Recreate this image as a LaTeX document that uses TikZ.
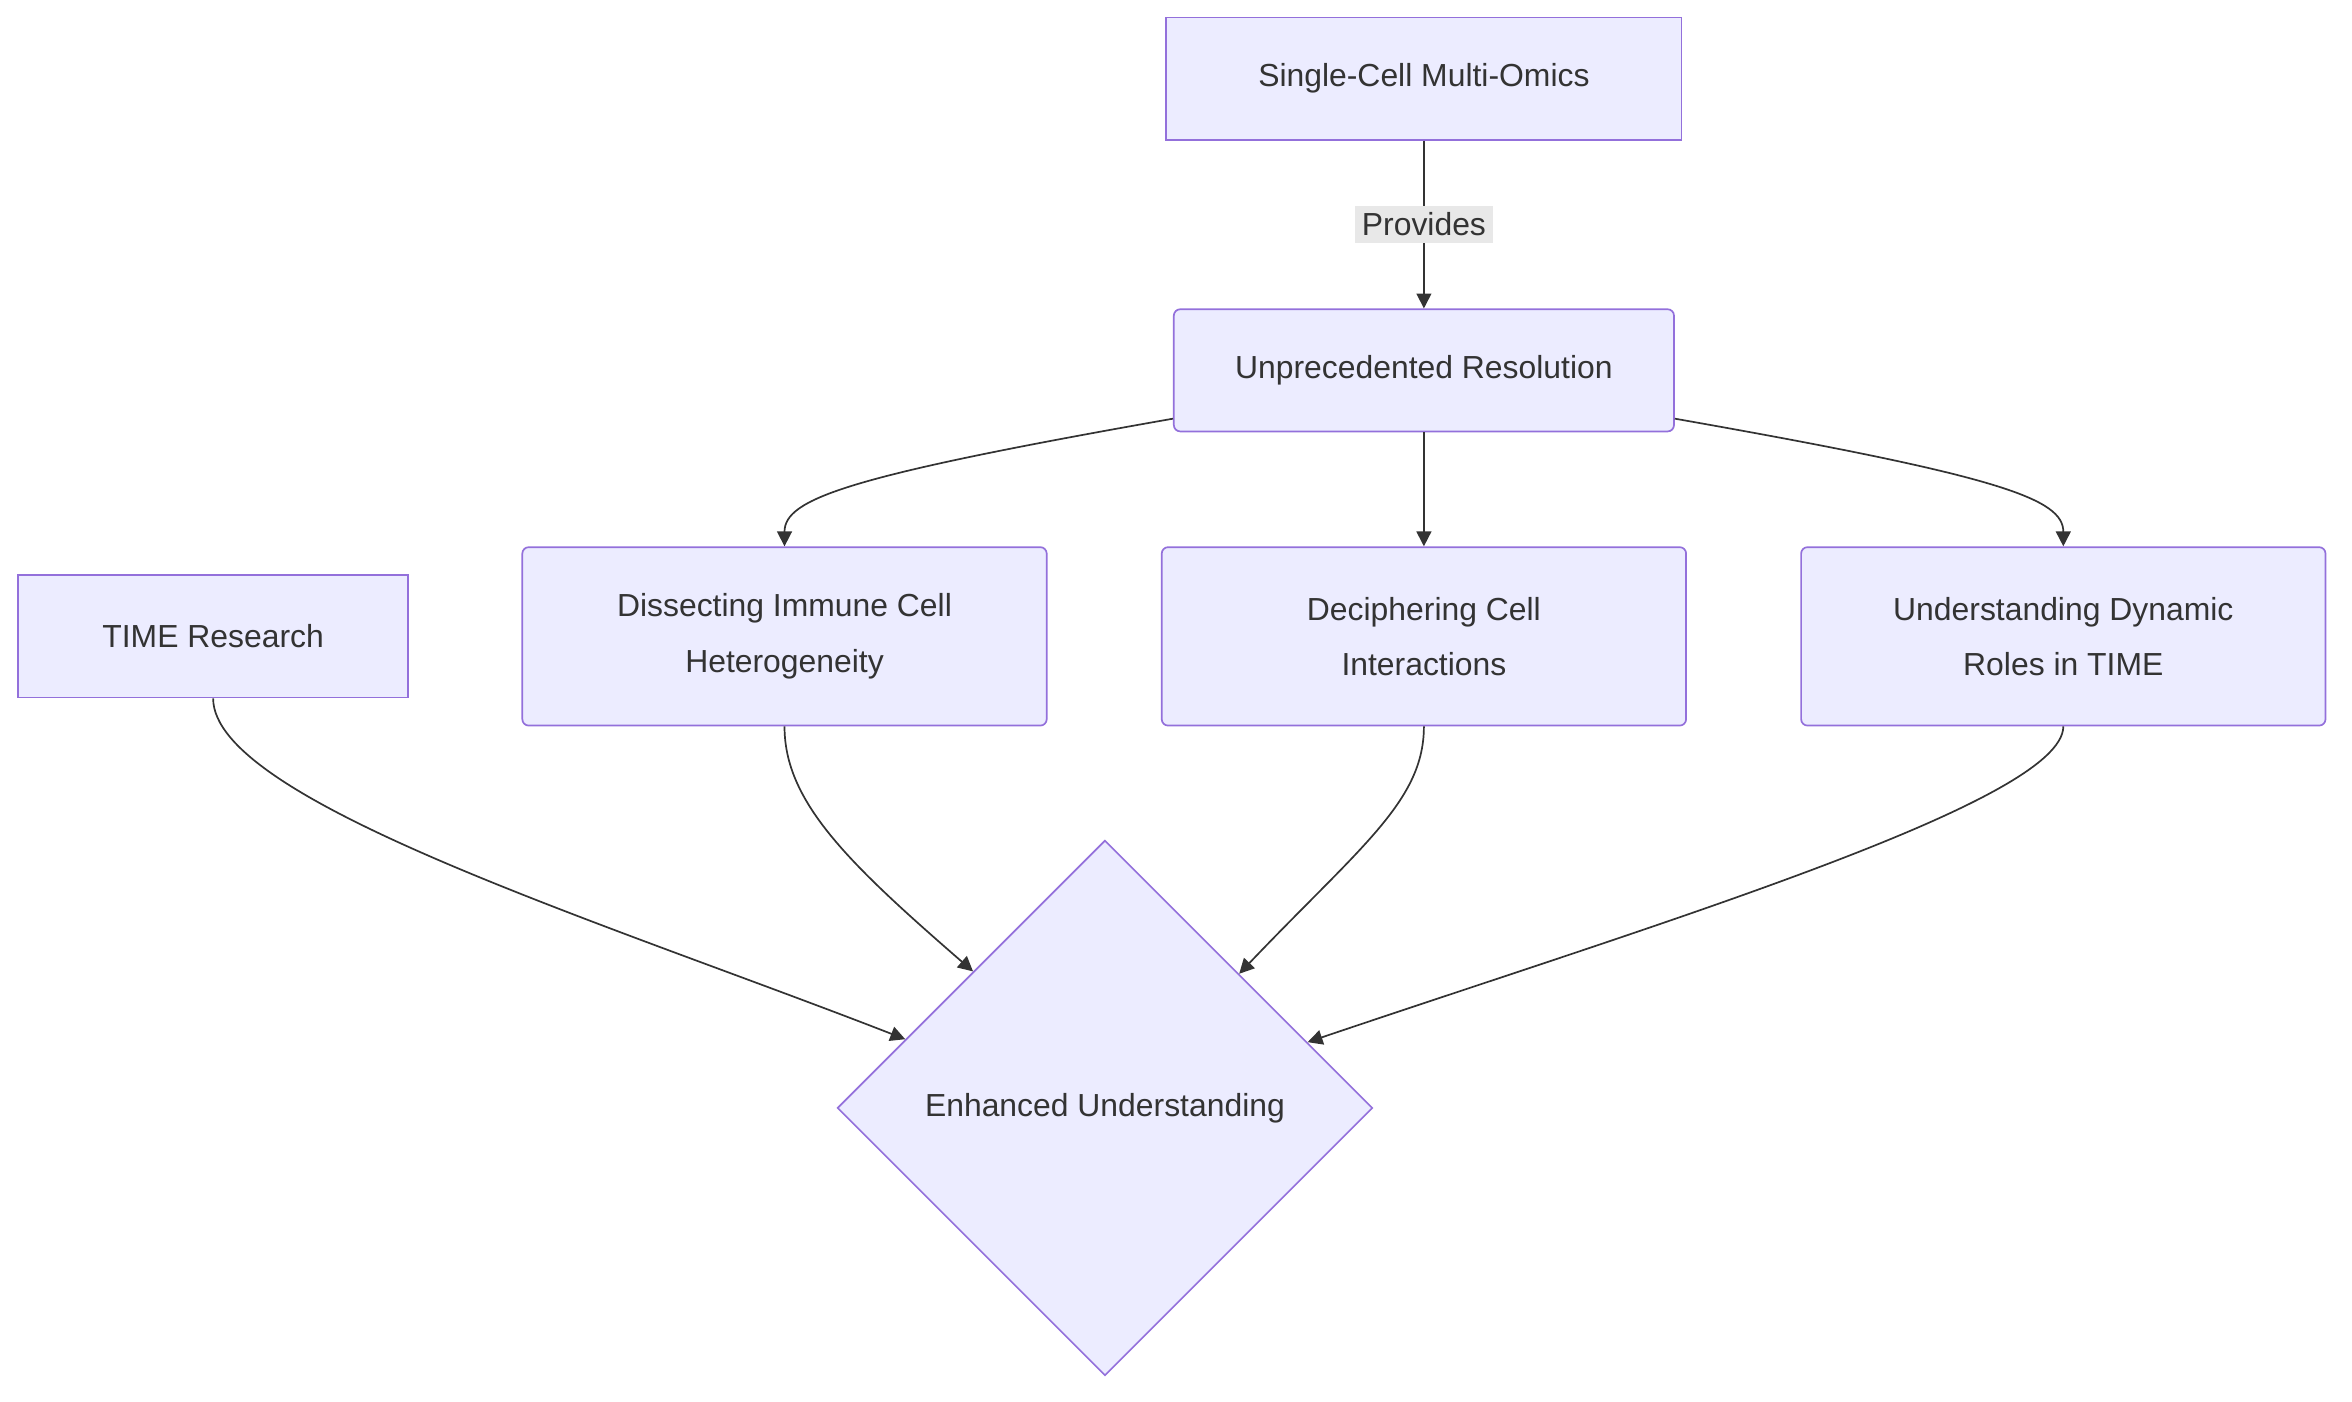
\documentclass[tikz,border=0pt]{standalone}
\usepackage{fontspec}
\setmainfont{Liberation Sans}
\usetikzlibrary{shapes.geometric,calc,arrows.meta}
\definecolor{boxfill}{HTML}{ECECFF}
\definecolor{boxline}{HTML}{9370DB}
\definecolor{ink}{HTML}{333333}
\begin{document}
\begin{tikzpicture}[x=0.025cm, y=-0.025cm, thick,
    main/.style = {draw=boxline, fill=boxfill, text=ink, align=center, font=\fontsize{15}{26}\selectfont},
    plain/.style = {main, minimum width=8.52cm, minimum height=2.02cm},
    soft/.style = {main, rounded corners=3pt},
    wide/.style = {soft, minimum width=8.67cm, minimum height=2.95cm},
    arr/.style = {draw=ink, line width=0.8pt, -{Triangle[length=7pt,width=7pt]}} ]
        \useasboundingbox (0,0) rectangle (1556,927);
        \node[plain] (sc) at (942,52) {Single-Cell Multi-Omics};
        \node[soft, minimum width=8.27cm, minimum height=2.02cm] (res) at (942,245) {Unprecedented Resolution};
        \node[wide] (dis) at (519,421) {Dissecting Immune Cell\\Heterogeneity};
        \node[wide] (dec) at (942,421) {Deciphering Cell\\Interactions};
        \node[wide] (und) at (1365,421) {Understanding Dynamic\\Roles in TIME};
        \node[main, minimum width=6.45cm, minimum height=2.02cm] (time) at (141,421) {TIME Research};
        \node[main, diamond, inner sep=0pt, minimum width=8.85cm, minimum height=8.85cm] (dia) at (731,733) {Enhanced Understanding};

        \draw[arr] (sc) -- (res) node [midway, fill=black!9, text=ink, font=\fontsize{15}{18}\selectfont] {Provides};
        \draw[arr] ($(res.south west)+(0,-9)$) .. controls (560,315) and (519,330) .. (dis.north);
        \draw[arr] (res) -- (dec);
        \draw[arr] ($(res.south east)+(0,-9)$) .. controls (1324,315) and (1365,330) .. (und.north);
        \draw[arr] (time.south) .. controls (141,530) and (400,610) .. (dia.161);
        \draw[arr] (dis.south) .. controls (519,530) and (560,570) .. (dia.134);
        \draw[arr] (dec.south) .. controls (942,530) and (900,560) .. (dia.45);
        \draw[arr] (und.south) .. controls (1365,530) and (1100,610) .. (dia.18);
\end{tikzpicture}
\end{document}
